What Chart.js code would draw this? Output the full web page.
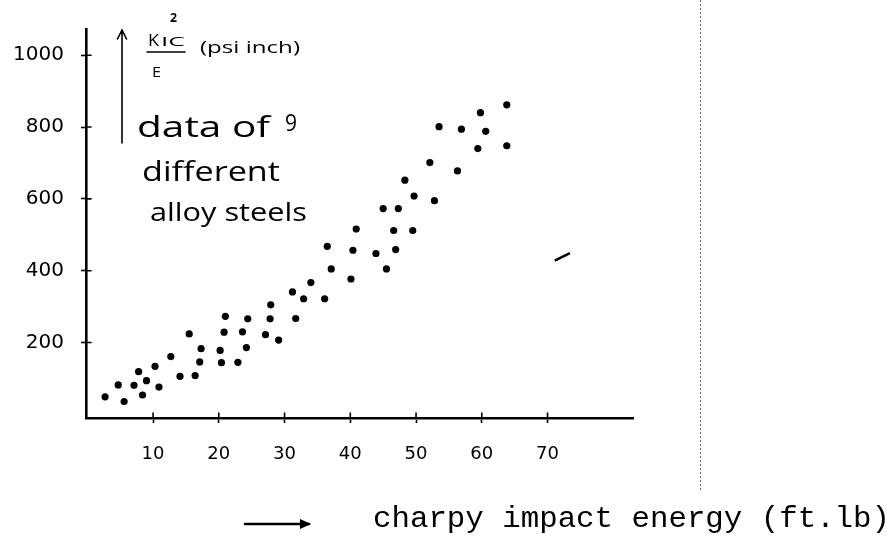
<!DOCTYPE html>
<html>
<head>
<meta charset="utf-8">
<script src="https://cdn.jsdelivr.net/npm/chart.js@4.4.1/dist/chart.umd.min.js"></script>
<style>
  html, body { margin: 0; padding: 0; background: #fff; }
  #wrap { width: 896px; height: 542px; position: relative; }
</style>
</head>
<body>
<div id="wrap"><canvas id="c" width="896" height="542"></canvas></div>
<script>
// Charpy impact energy (ft.lb) for each measured specimen
const energy = [
  2.7, 5.6, 4.7, 7.1, 8.4, 7.8, 9.0, 10.9, 10.3, 12.7,
  14.1, 16.4, 15.5, 17.1, 17.3, 20.2, 20.4, 22.9, 24.2, 20.8,
  21.0, 23.6, 24.4, 27.1, 27.8, 27.9, 29.1, 31.2, 31.7, 32.9,
  34.0, 36.1, 37.1, 36.5, 40.1, 40.4, 40.9, 43.9, 45.5, 46.9,
  46.6, 49.5, 45.0, 47.3, 49.7, 52.8, 48.3, 56.3, 52.1, 53.5,
  56.9, 60.6, 59.8, 63.8, 59.4, 63.8
];
// K_IC^2 / E (psi inch) for the same specimens
const toughness = [
  49, 36, 82, 81, 54, 119, 94, 76, 134, 161,
  106, 108, 224, 146, 183, 178, 144, 145, 186, 229,
  273, 230, 266, 222, 266, 305, 207, 341, 267, 322,
  367, 322, 405, 468, 377, 457, 516, 448, 405, 459,
  512, 512, 573, 573, 608, 595, 652, 678, 701, 801,
  794, 788, 840, 862, 740, 748
];
// short pen stroke on the right of the sheet
const strokeX = [71.1, 73.4];
const strokeY = [428, 449];

const xTickValues = [10, 20, 30, 40, 50, 60, 70];
const xTickLabels = ['10', '20', '30', '40', '50', '60', '70'];
const yTickValues = [200, 400, 600, 800, 1000];
const yTickLabels = ['200', '400', '600', '800', '1000'];

const HAND = '"Open Sans", "DejaVu Sans", sans-serif';
const DIGITS = '"DejaVu Sans", sans-serif';

// draw text stretched/compressed to a given width
function fitText(ctx, text, x, y, width, font) {
  ctx.save();
  ctx.font = font;
  const w = ctx.measureText(text).width;
  ctx.translate(x, y);
  ctx.scale(width / w, 1);
  ctx.fillText(text, 0, 0);
  ctx.restore();
}

const sheetPlugin = {
  id: 'sheet',
  beforeDraw(chart) {
    const ctx = chart.ctx;
    ctx.save();
    ctx.fillStyle = '#fff';
    ctx.fillRect(0, 0, chart.width, chart.height);
    // fold line of the paper
    ctx.strokeStyle = '#6a6a6a';
    ctx.lineWidth = 1;
    ctx.setLineDash([2, 2]);
    ctx.beginPath();
    ctx.moveTo(700.5, 0);
    ctx.lineTo(700.5, 490);
    ctx.stroke();
    ctx.restore();
  },
  afterDraw(chart) {
    const ctx = chart.ctx;
    const xs = chart.scales.x, ys = chart.scales.y;
    ctx.save();
    ctx.strokeStyle = '#000';
    ctx.fillStyle = '#000';
    ctx.lineCap = 'round';
    // inner halves of the crossing tick marks
    ctx.lineWidth = 1.6;
    xTickValues.forEach(v => {
      const px = xs.getPixelForValue(v);
      ctx.beginPath();
      ctx.moveTo(px, ys.bottom);
      ctx.lineTo(px, ys.bottom - 5);
      ctx.stroke();
    });
    yTickValues.forEach(v => {
      const py = ys.getPixelForValue(v);
      ctx.beginPath();
      ctx.moveTo(xs.left, py);
      ctx.lineTo(xs.left + 5, py);
      ctx.stroke();
    });

    // vertical arrow for the y quantity
    ctx.lineWidth = 1.6;
    ctx.beginPath();
    ctx.moveTo(122, 143);
    ctx.lineTo(122, 31);
    ctx.moveTo(117.5, 39);
    ctx.lineTo(122, 30);
    ctx.lineTo(126.5, 39);
    ctx.stroke();

    // K_IC^2 / E
    ctx.textBaseline = 'alphabetic';
    ctx.textAlign = 'left';
    fitText(ctx, 'K', 148, 46, 11, '17px ' + HAND);
    fitText(ctx, 'IC', 161, 46, 24, '13px ' + HAND);
    fitText(ctx, '2', 170, 22, 7, 'bold 12px ' + HAND);
    ctx.lineWidth = 1.5;
    ctx.beginPath();
    ctx.moveTo(147, 52);
    ctx.lineTo(185, 52);
    ctx.stroke();
    fitText(ctx, 'E', 152, 77, 9, '15px ' + HAND);
    fitText(ctx, '(psi inch)', 200, 53, 100, '17px ' + HAND);

    // note text
    fitText(ctx, 'data of', 137, 137, 133, '30px ' + HAND);
    fitText(ctx, '9', 285, 131, 12, '24px ' + HAND);
    fitText(ctx, 'different', 142, 181, 138, '28px ' + HAND);
    fitText(ctx, 'alloy steels', 150, 221, 157, '26px ' + HAND);

    // x quantity arrow and typed label
    ctx.lineWidth = 2.5;
    ctx.beginPath();
    ctx.moveTo(245, 524);
    ctx.lineTo(309, 524);
    ctx.stroke();
    ctx.beginPath();
    ctx.moveTo(300, 519);
    ctx.lineTo(311, 524);
    ctx.lineTo(300, 529);
    ctx.closePath();
    ctx.fill();
    fitText(ctx, 'charpy impact energy (ft.lb)', 373, 527, 517, '30px "Liberation Mono", monospace');
    ctx.restore();
  }
};

new Chart(document.getElementById('c'), {
  type: 'scatter',
  data: {
    datasets: [
      {
        data: energy.map((e, i) => ({ x: e, y: toughness[i] })),
        backgroundColor: '#000',
        borderColor: '#000',
        pointRadius: 3.6,
        pointHoverRadius: 3.6,
        borderWidth: 0
      },
      {
        data: strokeX.map((e, i) => ({ x: e, y: strokeY[i] })),
        showLine: true,
        borderColor: '#000',
        borderWidth: 2.5,
        pointRadius: 0
      }
    ]
  },
  options: {
    responsive: false,
    devicePixelRatio: 1,
    animation: false,
    events: [],
    layout: { padding: { left: 0, top: 5, right: 263, bottom: 0 } },
    plugins: { legend: { display: false }, tooltip: { enabled: false } },
    scales: {
      x: {
        type: 'linear',
        min: -0.2,
        max: 83,
        afterFit(scale) { scale.height = 124; },
        afterBuildTicks(scale) { scale.ticks = xTickValues.map(v => ({ value: v })); },
        border: { display: true, color: '#000', width: 2.6 },
        grid: { drawOnChartArea: false, drawTicks: true, tickLength: 5, tickColor: '#000', tickWidth: 1.6 },
        ticks: {
          padding: 21,
          color: '#000',
          font: { family: DIGITS, size: 18 },
          maxRotation: 0,
          callback: (v, i) => xTickLabels[i]
        }
      },
      y: {
        type: 'linear',
        min: -10,
        max: 1073,
        afterFit(scale) { scale.width = 86; },
        afterBuildTicks(scale) { scale.ticks = yTickValues.map(v => ({ value: v })); },
        border: { display: true, color: '#000', width: 2.6 },
        grid: { drawOnChartArea: false, drawTicks: true, tickLength: 5, tickColor: '#000', tickWidth: 1.6 },
        ticks: {
          padding: 17,
          color: '#000',
          font: { family: DIGITS, size: 20 },
          callback: (v, i) => yTickLabels[i]
        }
      }
    }
  },
  plugins: [sheetPlugin]
});
</script>
</body>
</html>
